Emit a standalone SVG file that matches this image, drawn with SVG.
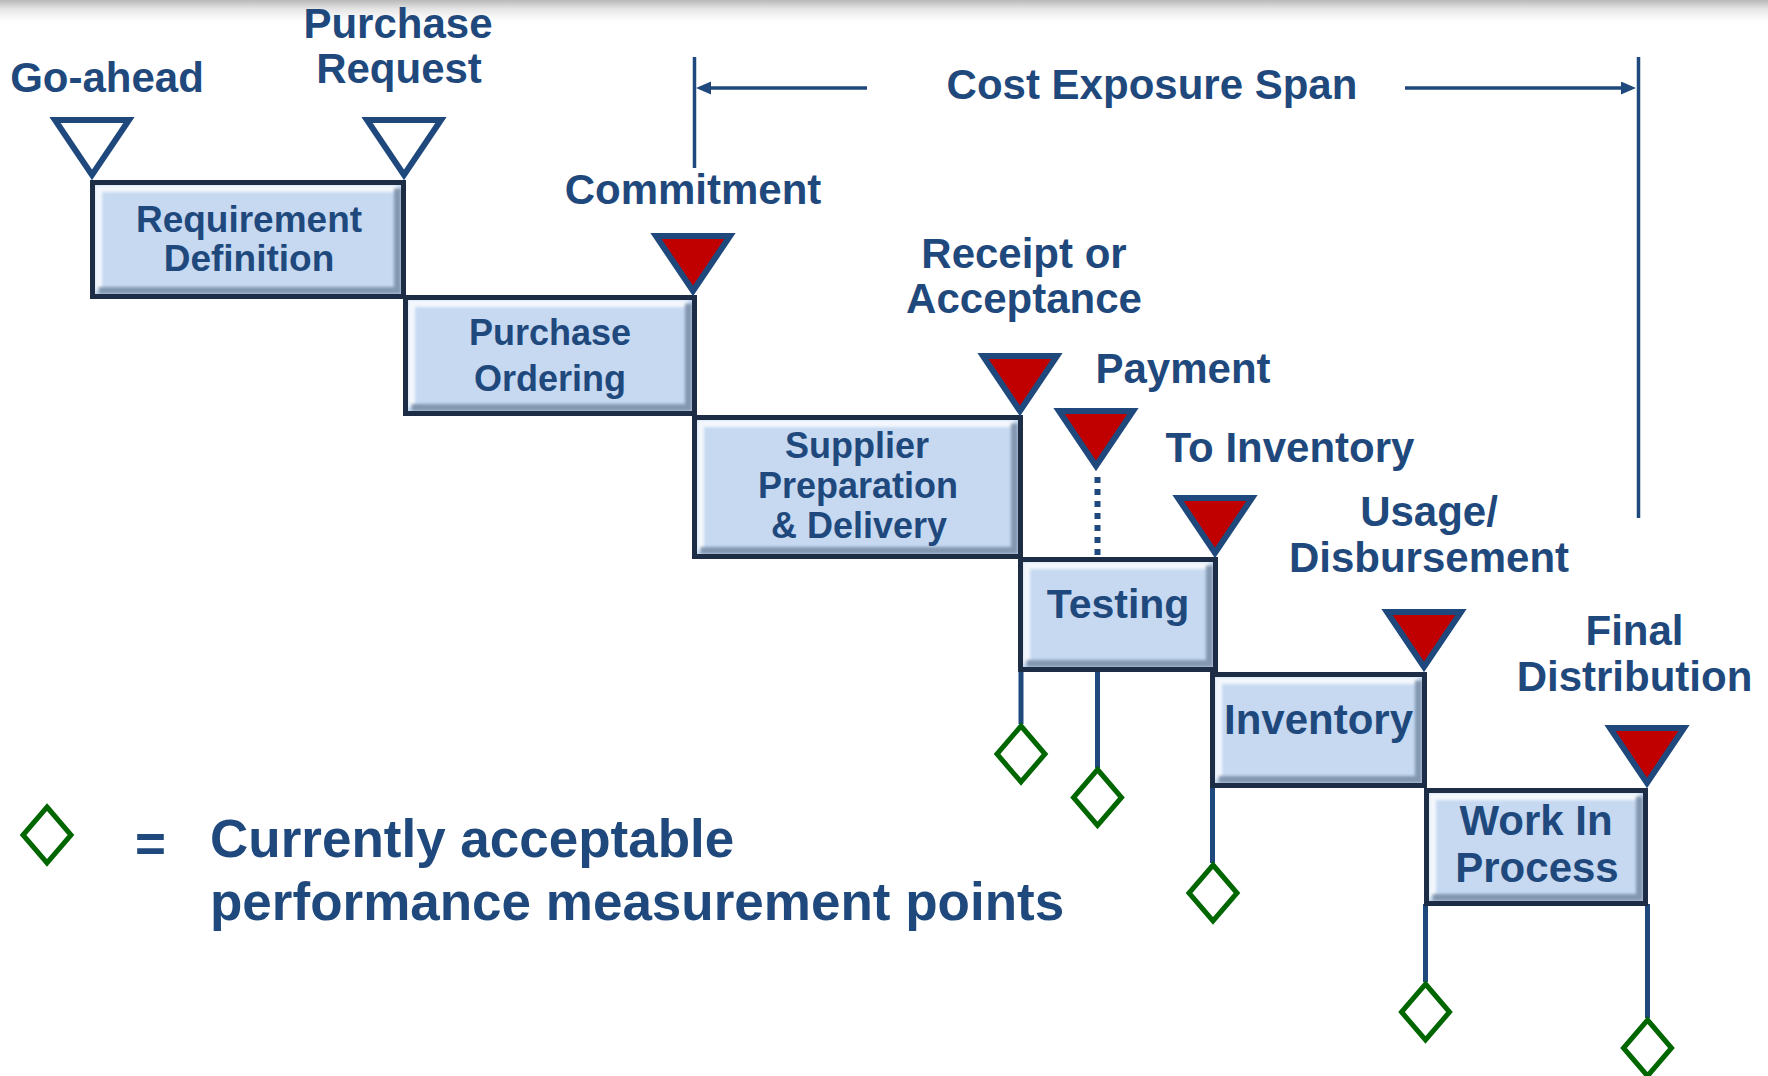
<svg xmlns="http://www.w3.org/2000/svg" xmlns:xlink="http://www.w3.org/1999/xlink" width="1768" height="1076" viewBox="0 0 1768 1076">
  <defs>
    <linearGradient id="topBand" x1="0" y1="0" x2="0" y2="1">
      <stop offset="0" stop-color="#b9b9b9"/>
      <stop offset="0.15" stop-color="#c9c9c9"/>
      <stop offset="0.4" stop-color="#e4e4e4"/>
      <stop offset="0.7" stop-color="#f4f4f4"/>
      <stop offset="1" stop-color="#ffffff"/>
    </linearGradient>
    <filter id="soft" x="-5%" y="-5%" width="110%" height="110%">
      <feGaussianBlur stdDeviation="1.4"/>
    </filter>
    <!-- milestone flag: downward triangle with its tip at (0,0) -->
    <path id="milestone" d="M-37,-60 L37,-60 L0,-5 Z"/>
    <!-- measurement point -->
    <path id="point" d="M0,-28 L24,0 L0,28 L-24,0 Z"/>
    <marker id="arrowHead" markerUnits="userSpaceOnUse" markerWidth="16" markerHeight="14" refX="11" refY="6.5" orient="auto">
      <path d="M0,0 L15,6.5 L0,13 Z" fill="#1f497d"/>
    </marker>
    <style>
      .lbl { font-family: "Liberation Sans", Arial, sans-serif; font-weight: bold; font-size: 42px; fill: #1f497d; text-anchor: middle; }
      .boxtxt { font-family: "Liberation Sans", Arial, sans-serif; font-weight: bold; fill: #1f497d; text-anchor: middle; }
      .legend { font-family: "Liberation Sans", Arial, sans-serif; font-weight: bold; font-size: 53px; fill: #1f497d; }
      .fill { fill: #c6d9f1; }
      .border { fill: none; stroke: #1c2d45; stroke-width: 5; }
      .hi { fill: none; stroke: #f4f8fd; stroke-width: 7; stroke-linejoin: miter; filter: url(#soft); }
      .lo { fill: none; stroke: #8397b1; stroke-width: 7; stroke-linejoin: miter; filter: url(#soft); }
      .open { fill: #ffffff; stroke: #1f497d; stroke-width: 6; }
      .red { fill: #c00000; stroke: #1f497d; stroke-width: 6; }
      .pt { fill: #ffffff; stroke: #006600; stroke-width: 5; }
      .wire { fill: none; stroke: #1f497d; stroke-width: 5; }
      .dots { fill: none; stroke: #1f497d; stroke-width: 6; stroke-dasharray: 6 6; }
      .span { fill: none; stroke: #1f497d; stroke-width: 3.5; }
    </style>
  </defs>

  <rect x="0" y="0" width="1768" height="1076" fill="#ffffff"/>
  <rect x="0" y="0" width="1768" height="22" fill="url(#topBand)"/>

  <!-- leads from activity boxes to measurement points -->
  <g id="connectors">
    <line class="wire" x1="1021" y1="670" x2="1021" y2="724"/>
    <line class="wire" x1="1097.5" y1="670" x2="1097.5" y2="768"/>
    <line class="dots" x1="1097.5" y1="477" x2="1097.5" y2="557"/>
    <line class="wire" x1="1212.5" y1="786" x2="1212.5" y2="863"/>
    <line class="wire" x1="1425.5" y1="904" x2="1425.5" y2="982"/>
    <line class="wire" x1="1647.5" y1="904" x2="1647.5" y2="1018"/>
    <!-- cost exposure span -->
    <line class="span" x1="694.5" y1="57" x2="694.5" y2="168"/>
    <line class="span" x1="1638.5" y1="57" x2="1638.5" y2="518"/>
    <line class="span" x1="867" y1="88" x2="700" y2="88" marker-end="url(#arrowHead)"/>
    <line class="span" x1="1405" y1="88" x2="1632" y2="88" marker-end="url(#arrowHead)"/>
  </g>
  <text id="span-label" class="lbl" x="1152" y="99">Cost Exposure Span</text>

  <!-- activity boxes -->
  <g id="box-requirement">
    <rect class="fill" x="92.5" y="182.5" width="311" height="114"/>
    <polyline class="hi" points="98.5,290.5 98.5,188.5 397.5,188.5"/>
    <polyline class="lo" points="397.5,188.5 397.5,290.5 98.5,290.5"/>
    <rect class="border" x="92.5" y="182.5" width="311" height="114"/>
    <text class="boxtxt" font-size="37" x="249" y="232">Requirement</text>
    <text class="boxtxt" font-size="37" x="249" y="271">Definition</text>
  </g>
  <g id="box-ordering">
    <rect class="fill" x="405.5" y="297.5" width="289" height="116"/>
    <polyline class="hi" points="411.5,407.5 411.5,303.5 688.5,303.5"/>
    <polyline class="lo" points="688.5,303.5 688.5,407.5 411.5,407.5"/>
    <rect class="border" x="405.5" y="297.5" width="289" height="116"/>
    <text class="boxtxt" font-size="36" x="550" y="345">Purchase</text>
    <text class="boxtxt" font-size="36" x="550" y="391">Ordering</text>
  </g>
  <g id="box-supplier">
    <rect class="fill" x="694.5" y="417.5" width="326" height="139"/>
    <polyline class="hi" points="700.5,550.5 700.5,423.5 1014.5,423.5"/>
    <polyline class="lo" points="1014.5,423.5 1014.5,550.5 700.5,550.5"/>
    <rect class="border" x="694.5" y="417.5" width="326" height="139"/>
    <text class="boxtxt" font-size="36" x="857" y="458">Supplier</text>
    <text class="boxtxt" font-size="36" x="858" y="498">Preparation</text>
    <text class="boxtxt" font-size="36" x="859" y="538">&amp; Delivery</text>
  </g>
  <g id="box-testing">
    <rect class="fill" x="1020.5" y="559.5" width="195" height="110"/>
    <polyline class="hi" points="1026.5,663.5 1026.5,565.5 1209.5,565.5"/>
    <polyline class="lo" points="1209.5,565.5 1209.5,663.5 1026.5,663.5"/>
    <rect class="border" x="1020.5" y="559.5" width="195" height="110"/>
    <text class="boxtxt" font-size="41" x="1118" y="618">Testing</text>
  </g>
  <g id="box-inventory">
    <rect class="fill" x="1212.5" y="674.5" width="212" height="111"/>
    <polyline class="hi" points="1218.5,779.5 1218.5,680.5 1418.5,680.5"/>
    <polyline class="lo" points="1418.5,680.5 1418.5,779.5 1218.5,779.5"/>
    <rect class="border" x="1212.5" y="674.5" width="212" height="111"/>
    <text class="boxtxt" font-size="42" x="1318.5" y="734">Inventory</text>
  </g>
  <g id="box-wip">
    <rect class="fill" x="1426.5" y="790.5" width="219" height="113"/>
    <polyline class="hi" points="1432.5,897.5 1432.5,796.5 1639.5,796.5"/>
    <polyline class="lo" points="1639.5,796.5 1639.5,897.5 1432.5,897.5"/>
    <rect class="border" x="1426.5" y="790.5" width="219" height="113"/>
    <text class="boxtxt" font-size="42" x="1536" y="835">Work In</text>
    <text class="boxtxt" font-size="42" x="1537" y="882">Process</text>
  </g>

  <!-- milestones -->
  <g id="ms-goahead">
    <use xlink:href="#milestone" class="open" x="92" y="180"/>
    <text class="lbl" x="107" y="92">Go-ahead</text>
  </g>
  <g id="ms-request">
    <use xlink:href="#milestone" class="open" x="404" y="180"/>
    <text class="lbl" x="398" y="38">Purchase</text>
    <text class="lbl" x="399" y="83">Request</text>
  </g>
  <g id="ms-commitment">
    <use xlink:href="#milestone" class="red" x="693" y="296"/>
    <text class="lbl" x="693" y="204">Commitment</text>
  </g>
  <g id="ms-receipt">
    <use xlink:href="#milestone" class="red" x="1020" y="416"/>
    <text class="lbl" x="1024" y="268">Receipt or</text>
    <text class="lbl" x="1024" y="313">Acceptance</text>
  </g>
  <g id="ms-payment">
    <use xlink:href="#milestone" class="red" x="1096" y="471"/>
    <text class="lbl" x="1183" y="383">Payment</text>
  </g>
  <g id="ms-to-inventory">
    <use xlink:href="#milestone" class="red" x="1215" y="558"/>
    <text class="lbl" x="1290" y="462">To Inventory</text>
  </g>
  <g id="ms-usage">
    <use xlink:href="#milestone" class="red" x="1424" y="672"/>
    <text class="lbl" x="1429" y="526">Usage/</text>
    <text class="lbl" x="1429" y="572">Disbursement</text>
  </g>
  <g id="ms-final">
    <use xlink:href="#milestone" class="red" x="1647" y="788"/>
    <text class="lbl" x="1634.5" y="645">Final</text>
    <text class="lbl" x="1634.5" y="691">Distribution</text>
  </g>

  <!-- measurement points -->
  <g id="pt-1"><use xlink:href="#point" class="pt" x="1021" y="754"/></g>
  <g id="pt-2"><use xlink:href="#point" class="pt" x="1097.5" y="797.5"/></g>
  <g id="pt-3"><use xlink:href="#point" class="pt" x="1213" y="893"/></g>
  <g id="pt-4"><use xlink:href="#point" class="pt" x="1425.5" y="1012"/></g>
  <g id="pt-5"><use xlink:href="#point" class="pt" x="1647.5" y="1048"/></g>

  <!-- legend -->
  <g id="legend">
    <use xlink:href="#point" class="pt" x="47" y="835"/>
    <text class="legend" x="135" y="862">=</text>
    <text class="legend" x="210" y="857">Currently acceptable</text>
    <text class="legend" x="210" y="920">performance measurement points</text>
  </g>
</svg>
